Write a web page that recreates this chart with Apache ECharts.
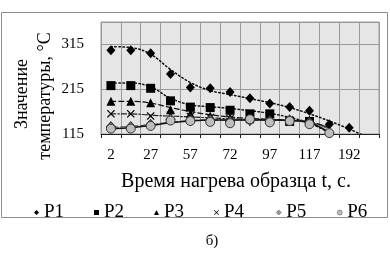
<!DOCTYPE html>
<html><head><meta charset="utf-8">
<script src="https://cdn.jsdelivr.net/npm/echarts@6/dist/echarts.min.js"></script>
<style>html,body{margin:0;padding:0;background:#fff}#c{width:390px;height:255px}</style>
</head><body><div id="c"></div>
<script>
var categories = ['2','12','27','42','57','62','72','87','97','107','117','147','192','207'];
var yTicks = [115, 215, 315];
var seriesNames = ['P1','P2','P3','P4','P5','P6'];
var P1 = [302, 302, 295, 249, 219, 217, 209, 195, 183, 175, 167, 137, 129, null];
var P2 = [223, 223, 217, 189, 175, 174, 168, 160, 160, 143, 143, null, null, null];
var P3 = [188, 188, 185, 169, 160, 155, 152, 150, 151, 148, 146, null, null, null];
var P4 = [160, 160, 155, 157, 154, 152, 149, 147, 150, 147, 143, null, null, null];
var P5 = [131, 131, 136, 148, 146, 146, 143, 145, 144, 146, 140, null, null, null];
var P6 = [127, 127, 133, 145, 144, 142, 139, 148, 141, 144, 137, 117, null, null];
var T1 = [310, 308, 293, 259, 230, 212, 203, 194, 185, 174, 160, 144, 126, 106];
var T2 = [229, 229, 220, 195, 180, 176, 172, 167, 161, 152, 139, 118, null, null];
var T3 = [188, 188, 184, 174, 165, 158, 153, 150, 148, 146, 142, 130, null, null];
var T4 = [160, 160, 157, 155, 153, 151, 149, 148, 147, 146, 142, 128, null, null];
var T5 = [130, 132, 136, 141, 145, 146, 146, 146, 146, 145, 141, 126, null, null];
var T6 = [127, 129, 134, 140, 144, 146, 146, 146, 146, 145, 140, 118, null, null];

var FONT = 'Liberation Serif';
var crossPath = 'path://M0,1L1,0L5,4L9,0L10,1L6,5L10,9L9,10L5,6L1,10L0,9L4,5Z';
var symbols = ['diamond', 'rect', 'triangle', crossPath, 'diamond', 'circle'];
var fills = ['#000', '#000', '#000', '#000', '#9a9a9a', '#bdbdbd'];
var chart = echarts.init(document.getElementById('c'), null, {renderer:'canvas'});

function markers(name, data, symbol, size, fill, border) {
  return {name:name, type:'scatter', data:data, symbol:symbol, symbolSize:size, z:5,
    itemStyle:{color:fill, borderColor:border || fill, borderWidth: border ? 1 : 0, opacity:1}};
}
function trend(data, type, color, width) {
  return {type:'line', data:data, smooth:0.4, symbol:'none', silent:true, z:3,
    lineStyle:{color:color, width:width, type:type, cap:'round'}};
}
var legendLefts = [29, 89, 149, 209, 271, 332];
var legends = seriesNames.map(function(n, i){
  return {data:[{name:n, icon:symbols[i], itemStyle:{color:fills[i], borderColor: i >= 4 ? '#444' : fills[i], borderWidth: i >= 4 ? 0.5 : 0}}],
    left:legendLefts[i], top:198, itemWidth:5, itemHeight:5,
    textStyle:{fontFamily:FONT, fontSize:19, color:'#000'}};
});

chart.setOption({
  animation:false,
  backgroundColor:'#fff',
  grid:{left:101, right:11, top:22, bottom:121, containLabel:false, show:true,
        backgroundColor:'#e6e6e6', borderColor:'#9a9a9a', borderWidth:1},
  xAxis:{type:'category', data:categories, boundaryGap:true,
    axisLine:{show:true, lineStyle:{color:'#222', width:1}},
    axisTick:{show:true, interval:0, length:4, lineStyle:{color:'#222'}},
    axisLabel:{interval:1, margin:14, fontFamily:FONT, fontSize:15, color:'#000'},
    splitLine:{show:true, interval:0, lineStyle:{color:'#9a9a9a', width:1}}},
  yAxis:{type:'value', min:115, max:365, interval:100,
    axisLine:{show:false}, axisTick:{show:false},
    axisLabel:{margin:17, fontFamily:FONT, fontSize:15, color:'#000',
      formatter:function(v){return yTicks.indexOf(v) >= 0 ? String(v) : '';}},
    splitLine:{show:true, lineStyle:{color:'#9a9a9a', width:1}}},
  legend:legends,
  graphic:[
    {type:'rect', shape:{x:1.5, y:12.5, width:386, height:205}, style:{fill:'none', stroke:'#8c8c8c', lineWidth:1}, z:-1},
    {type:'text', x:22, y:94, rotation:Math.PI/2, style:{text:'Значение', font:'18px "Liberation Serif"', fill:'#000', textAlign:'center', textVerticalAlign:'middle'}},
    {type:'text', x:45, y:96, rotation:Math.PI/2, style:{text:'температуры, °C', font:'18px "Liberation Serif"', fill:'#000', textAlign:'center', textVerticalAlign:'middle'}},
    {type:'text', x:236, y:182, style:{text:'Время нагрева образца t, с.', font:'20px "Liberation Serif"', fill:'#000', textAlign:'center', textVerticalAlign:'middle'}},
    {type:'text', x:212, y:241, style:{text:'б)', font:'15px "Liberation Serif"', fill:'#000', textAlign:'center', textVerticalAlign:'middle'}}
  ],
  series:[
    trend(T1, [1.5,2.5], '#111', 1.5),
    trend(T2, [1.5,2.5], '#111', 1.5),
    trend(T3, [5,3], '#111', 1.2),
    trend(T4, [5,2,1.5,2], '#222', 1.2),
    trend(T5, [7,3], '#555', 1.2),
    trend(T6, 'solid', '#111', 1.5),
    markers('P1', P1, symbols[0], [9,10], fills[0], null),
    markers('P2', P2, symbols[1], 9, fills[1], null),
    markers('P3', P3, symbols[2], 9, fills[2], null),
    markers('P4', P4, symbols[3], 8, fills[3], null),
    markers('P5', P5, symbols[4], [9,10], fills[4], '#333'),
    markers('P6', P6, symbols[5], 9, fills[5], '#333')
  ]
});
</script></body></html>
